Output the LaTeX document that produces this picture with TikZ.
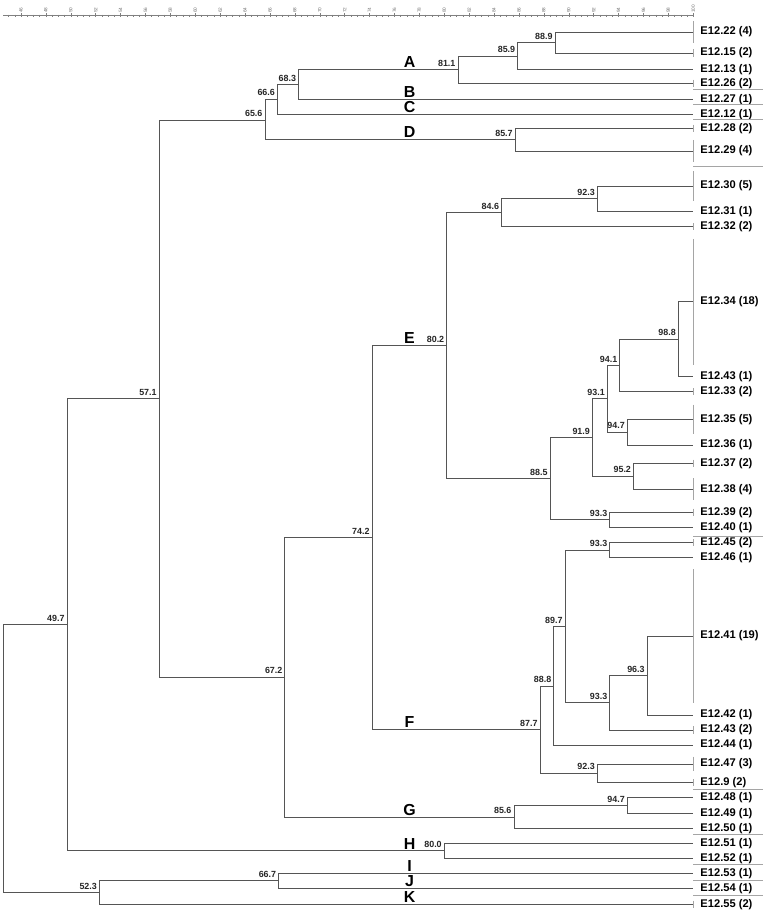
\documentclass[tikz,border=0pt]{standalone}
\usepackage{fontspec}
\setmainfont{Liberation Sans}
\usetikzlibrary{positioning}
\definecolor{treeline}{RGB}{85,85,85}
\definecolor{barline}{RGB}{165,165,165}

\begin{document}
\begin{tikzpicture}[x=0.37347cm, y=-0.03cm,
    branch/.style={draw=treeline, line width=0.7pt},
    bar/.style={draw=barline, line width=0.8pt},
    sep/.style={draw=barline, line width=0.6pt},
    axis/.style={draw=black!50, line width=0.4pt},
    leaf/.style={inner sep=0pt, font=\fontsize{9.5}{11}\selectfont\bfseries},
    val/.style={inner sep=0pt, text=black!85, font=\fontsize{7.6}{9}\selectfont\bfseries},
    clus/.style={inner sep=0pt, anchor=south, yshift=0.045cm, font=\fontsize{13.6}{16}\selectfont\bfseries},
    axlab/.style={inner sep=0pt, rotate=90, anchor=west, text=black!55, font=\fontsize{4}{5}\selectfont}]
    \useasboundingbox (44.316,0) rectangle (105.69,913);

    % similarity scale
    \draw [axis] (44.56,15.7) coordinate (ax0) -- (100,15.7) coordinate (ax1);
    \foreach \i in {90,...,200} \draw [axis] (\i/2,14.7) -- (\i/2,16.7);
    \foreach \t in {46,48,...,100} {
        \draw [axis] (\t,13.2) -- (\t,17.2);
        \node (ax\t) [axlab] at (\t,13.2) {\t};
    }

    % leaves: name / y / isolates / label
    \foreach \lf/\y/\n/\txt in {
        l22/32/4/{E12.22 (4)}, l15/53/2/{E12.15 (2)}, l13/69.3/1/{E12.13 (1)},
        l26/83.3/2/{E12.26 (2)}, l27/99.3/1/{E12.27 (1)}, l12/114.3/1/{E12.12 (1)},
        l28/128.3/2/{E12.28 (2)}, l29/151/4/{E12.29 (4)}, l30/186/5/{E12.30 (5)},
        l31/211.7/1/{E12.31 (1)}, l32/226.7/2/{E12.32 (2)}, l34/301.7/18/{E12.34 (18)},
        l43a/376.7/1/{E12.43 (1)}, l33/391.7/2/{E12.33 (2)}, l35/419.3/5/{E12.35 (5)},
        l36/445/1/{E12.36 (1)}, l37/463.3/2/{E12.37 (2)}, l38/489.3/4/{E12.38 (4)},
        l39/512.3/2/{E12.39 (2)}, l40/527.3/1/{E12.40 (1)}, l45/542.7/2/{E12.45 (2)},
        l46/557.7/1/{E12.46 (1)}, l41/636/19/{E12.41 (19)}, l42/715/1/{E12.42 (1)},
        l43b/730/2/{E12.43 (2)}, l44/745/1/{E12.44 (1)}, l47/764/3/{E12.47 (3)},
        l9/782.7/2/{E12.9 (2)}, l48/797.7/1/{E12.48 (1)}, l49/813.3/1/{E12.49 (1)},
        l50/828.3/1/{E12.50 (1)}, l51/843.3/1/{E12.51 (1)}, l52/858.3/1/{E12.52 (1)},
        l53/873.3/1/{E12.53 (1)}, l54/888.3/1/{E12.54 (1)}, l55/904.3/2/{E12.55 (2)}}
    {
        \coordinate (\lf) at (100,\y);
        \node (t\lf) [leaf, right=0.21cm of \lf] {\txt};
        \draw [bar] ([yshift={(\n-1)*0.111cm}]\lf) -- ([yshift={-(\n-1)*0.111cm}]\lf);
    }

    % internal nodes with their similarity value
    \foreach \nd/\sval/\y in {
        n889/88.9/42.7, n859/85.9/56, n811/81.1/69.7, n683/68.3/84.5, n666/66.6/99.3,
        n857/85.7/139.7, n656/65.6/120, n571/57.1/398.7, n672/67.2/677.3, n742/74.2/537.7,
        n802/80.2/345.7, n846/84.6/212.7, n923a/92.3/198.8, n885/88.5/478.7, n919/91.9/437.4,
        n931/93.1/398.8, n941/94.1/365.5, n988/98.8/339.2, n947a/94.7/432.2, n952/95.2/476.3,
        n933a/93.3/519.8, n877/87.7/729.7, n888/88.8/686, n897/89.7/626.7, n933b/93.3/550.2,
        n933c/93.3/702.7, n963/96.3/675.5, n923b/92.3/773.3, n856/85.6/817, n947b/94.7/805.5,
        n800/80.0/850.8, n497/49.7/624.4, n667/66.7/880.8, n523/52.3/892.5}
    {
        \coordinate (\nd) at (\sval,\y);
        \node (v\nd) [val, above left=0.09cm and 0.07cm of \nd] {\sval};
    }
    \coordinate (root) at (44.56,758.5);

    % branches
    \foreach \pa/\ch in {
        n889/l22, n889/l15, n859/n889, n859/l13, n811/n859, n811/l26,
        n683/n811, n683/l27, n666/n683, n666/l12, n857/l28, n857/l29,
        n656/n666, n656/n857, n571/n656, n571/n672,
        n923a/l30, n923a/l31, n846/n923a, n846/l32,
        n988/l34, n988/l43a, n941/n988, n941/l33, n947a/l35, n947a/l36,
        n931/n941, n931/n947a, n952/l37, n952/l38, n919/n931, n919/n952,
        n933a/l39, n933a/l40, n885/n919, n885/n933a, n802/n846, n802/n885,
        n933b/l45, n933b/l46, n963/l41, n963/l42, n933c/n963, n933c/l43b,
        n897/n933b, n897/n933c, n888/n897, n888/l44, n923b/l47, n923b/l9,
        n877/n888, n877/n923b, n742/n802, n742/n877,
        n947b/l48, n947b/l49, n856/n947b, n856/l50, n672/n742, n672/n856,
        n800/l51, n800/l52, n497/n571, n497/n800,
        n667/l53, n667/l54, n523/n667, n523/l55, root/n497, root/n523}
        \draw [branch] (\pa) |- (\ch);

    % cluster letters
    \foreach \lt/\y in {A/69.7, B/99.3, C/114.3, D/139.7, E/345.7, F/729.7,
        G/817, H/850.8, I/873.3, J/888.3, K/904.3}
        \node (c\lt) [clus] at (77.21,\y) {\lt};

    % cluster separators
    \foreach \y in {89.3, 104.3, 119.3, 166, 536, 789.3, 834.3, 864.3, 880, 895.7}
        \draw [sep] (100,\y) -- (105.6,\y);
\end{tikzpicture}
\end{document}
